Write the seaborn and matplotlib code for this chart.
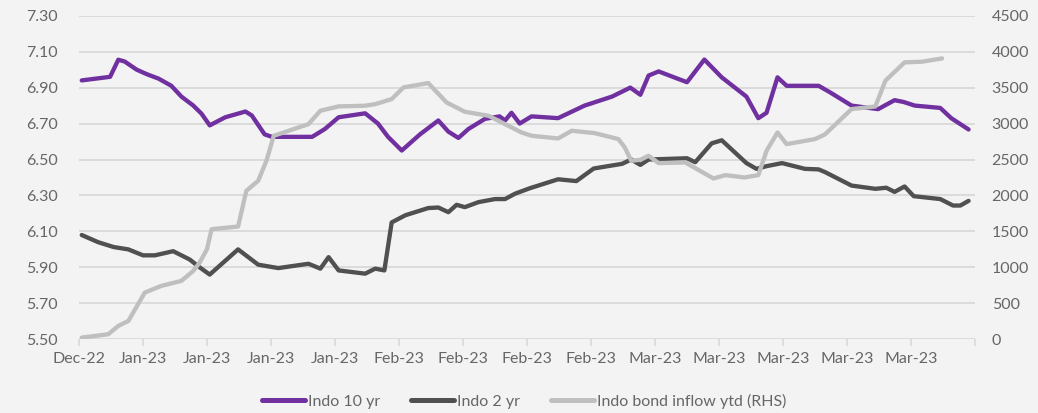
import numpy as np
import pandas as pd
import matplotlib
matplotlib.use("Agg")
import matplotlib.pyplot as plt
import seaborn as sns

# ---------------- data (days since 30-Dec-2022, values) ----------------
base_date = pd.Timestamp("2022-12-30")

y10_days = [0.3, 3.4, 4.3, 5.0, 6.3, 7.4, 8.7, 10.1, 11.2, 12.5, 13.4, 14.3, 16.0, 18.2, 18.9,
            20.3, 21.1, 25.5, 26.9, 28.4, 31.3, 32.7, 33.8, 35.3, 37.3, 39.3, 40.4, 41.5, 42.6,
            44.4, 46.0, 46.6, 47.3, 48.2, 49.5, 52.4, 55.3, 58.3, 60.3, 61.4, 62.3, 63.4, 65.2,
            66.5, 68.4, 70.3, 73.0, 74.3, 75.2, 76.4, 77.4, 80.9, 82.1, 84.5, 87.4, 89.2, 90.2,
            91.4, 94.2, 95.4, 97.3]
y10_vals = [6.94, 6.96, 7.055, 7.045, 7.00, 6.975, 6.95, 6.91, 6.85, 6.80, 6.755, 6.69, 6.735, 6.767, 6.745,
            6.64, 6.626, 6.626, 6.67, 6.735, 6.757, 6.70, 6.626, 6.55, 6.64, 6.717, 6.655, 6.62, 6.67,
            6.726, 6.74, 6.717, 6.76, 6.70, 6.74, 6.73, 6.80, 6.85, 6.90, 6.86, 6.967, 6.99, 6.955,
            6.93, 7.056, 6.957, 6.85, 6.73, 6.76, 6.957, 6.91, 6.91, 6.875, 6.80, 6.78, 6.83, 6.82,
            6.80, 6.787, 6.73, 6.667]

y2_days = [0.3, 2.1, 3.8, 5.4, 7.0, 8.3, 10.3, 12.1, 13.2, 14.3, 17.4, 19.6, 21.8, 25.1, 26.4,
           27.3, 28.4, 31.3, 32.4, 33.4, 34.2, 35.7, 38.2, 39.3, 40.4, 41.3, 42.2, 43.7, 45.5,
           46.6, 47.7, 49.3, 52.4, 54.4, 56.3, 59.4, 60.4, 61.4, 62.3, 66.5, 67.4, 69.2, 70.3,
           73.0, 74.1, 75.2, 76.9, 79.4, 80.9, 81.6, 84.5, 87.1, 88.3, 89.2, 90.3, 91.3, 94.2,
           95.6, 96.4, 97.3]
y2_vals = [6.08, 6.04, 6.013, 6.00, 5.967, 5.967, 5.99, 5.944, 5.90, 5.86, 6.00, 5.915, 5.896, 5.92, 5.893,
           5.957, 5.883, 5.865, 5.893, 5.883, 6.15, 6.19, 6.23, 6.233, 6.207, 6.248, 6.235, 6.263, 6.28,
           6.28, 6.31, 6.34, 6.39, 6.38, 6.45, 6.476, 6.50, 6.47, 6.50, 6.507, 6.485, 6.59, 6.607,
           6.48, 6.448, 6.463, 6.48, 6.448, 6.445, 6.43, 6.355, 6.337, 6.343, 6.32, 6.35, 6.296, 6.28,
           6.244, 6.244, 6.27]

flow_days = [0.3, 3.2, 4.3, 5.4, 7.2, 9.0, 11.2, 12.5, 13.2, 14.0, 14.5, 17.4, 18.3, 19.6, 20.5,
             21.3, 25.1, 26.4, 28.4, 31.3, 32.4, 34.2, 35.5, 38.2, 40.2, 42.2, 44.8, 46.6, 48.4,
             49.5, 52.4, 53.9, 56.4, 59.0, 59.7, 60.4, 61.4, 62.3, 63.4, 66.3, 69.4, 70.7, 72.8,
             74.3, 75.2, 76.4, 77.4, 80.5, 81.6, 84.5, 87.1, 88.2, 90.3, 92.2, 94.4]
flow_vals = [23, 70, 186, 255, 650, 742, 812, 951, 1067, 1253, 1531, 1568, 2064, 2204, 2482,
             2830, 2992, 3178, 3239, 3248, 3270, 3340, 3503, 3563, 3294, 3164, 3108, 2992, 2876,
             2830, 2793, 2900, 2867, 2784, 2668, 2482, 2496, 2552, 2450, 2459, 2236, 2283, 2250,
             2283, 2621, 2876, 2714, 2784, 2850, 3201, 3238, 3596, 3851, 3860, 3906]

left_ticks = [5.50, 5.70, 5.90, 6.10, 6.30, 6.50, 6.70, 6.90, 7.10, 7.30]
right_ticks = [0, 500, 1000, 1500, 2000, 2500, 3000, 3500, 4000, 4500]
series_names = ["Indo 10 yr", "Indo 2 yr", "Indo bond inflow ytd (RHS)"]

# ---------------- build frames ----------------
def to_df(days, vals):
    return pd.DataFrame({"date": base_date + pd.to_timedelta(np.array(days), unit="D"),
                         "value": vals})

d10 = to_df(y10_days, y10_vals)
d2 = to_df(y2_days, y2_vals)
dflow = to_df(flow_days, flow_vals)

# ---------------- style ----------------
sns.set_theme(style="white")
plt.rcParams["font.family"] = ["Lato", "DejaVu Sans"]

bg = "#f3f3f3"
txt = "#666666"
grid_c = "#d9d9d9"
purple = "#7030a0"
dark = "#505050"
light = "#bfbfbf"
lw = 3.1
fs = 11.5

fig = plt.figure(figsize=(10.38, 4.13), dpi=100, facecolor=bg)
ax = fig.add_axes([0.0761, 0.1785, 0.8632, 0.7835])
ax.set_facecolor("none")
ax2 = ax.twinx()
ax2.set_facecolor("none")

sns.lineplot(data=d10, x="date", y="value", ax=ax, color=purple, linewidth=lw,
             label=series_names[0], legend=False)
sns.lineplot(data=d2, x="date", y="value", ax=ax, color=dark, linewidth=lw,
             label=series_names[1], legend=False)
sns.lineplot(data=dflow, x="date", y="value", ax=ax2, color=light, linewidth=lw,
             label=series_names[2], legend=False)

for a in (ax, ax2):
    for s in a.spines.values():
        s.set_visible(False)
    a.set_xlabel("")
    a.set_ylabel("")

# y axes
ax.set_ylim(5.50, 7.30)
ax.set_yticks(left_ticks)
ax.set_yticklabels([f"{v:.2f}" for v in left_ticks])
ax.yaxis.grid(True, color=grid_c, linewidth=1.3)
ax.set_axisbelow(True)
ax.tick_params(axis="y", length=0, pad=15, labelsize=fs, labelcolor=txt)

ax2.set_ylim(0, 4500)
ax2.set_yticks(right_ticks)
ax2.set_yticklabels([str(v) for v in right_ticks])
ax2.tick_params(axis="y", length=0, pad=12, labelsize=fs, labelcolor=txt)
ax2.grid(False)

# x axis: weekly ticks
xticks = [base_date + pd.Timedelta(days=7 * k) for k in range(15)]
ax.set_xlim(base_date, base_date + pd.Timedelta(days=98))
ax.set_xticks(xticks)
ax.set_xticklabels([t.strftime("%b-%y") for t in xticks[:-1]] + [""])
ax.tick_params(axis="x", length=5, width=1.2, color=grid_c, pad=4, labelsize=fs,
               labelcolor=txt, direction="out")
ax.tick_params(axis="x", bottom=True)

# legend
handles = ax.get_lines()[:2] + ax2.get_lines()[:1]
for a in (ax, ax2):
    if a.get_legend() is not None:
        a.get_legend().remove()
leg = fig.legend(handles, series_names, loc="center", bbox_to_anchor=(0.505, 0.028),
                 ncol=3, frameon=False, fontsize=fs, handlelength=2.7,
                 handletextpad=0.2, columnspacing=1.9)
for t in leg.get_texts():
    t.set_color(txt)
for h in leg.legend_handles:
    h.set_linewidth(3.6)

fig.savefig("out.png", dpi=100, facecolor=bg)
